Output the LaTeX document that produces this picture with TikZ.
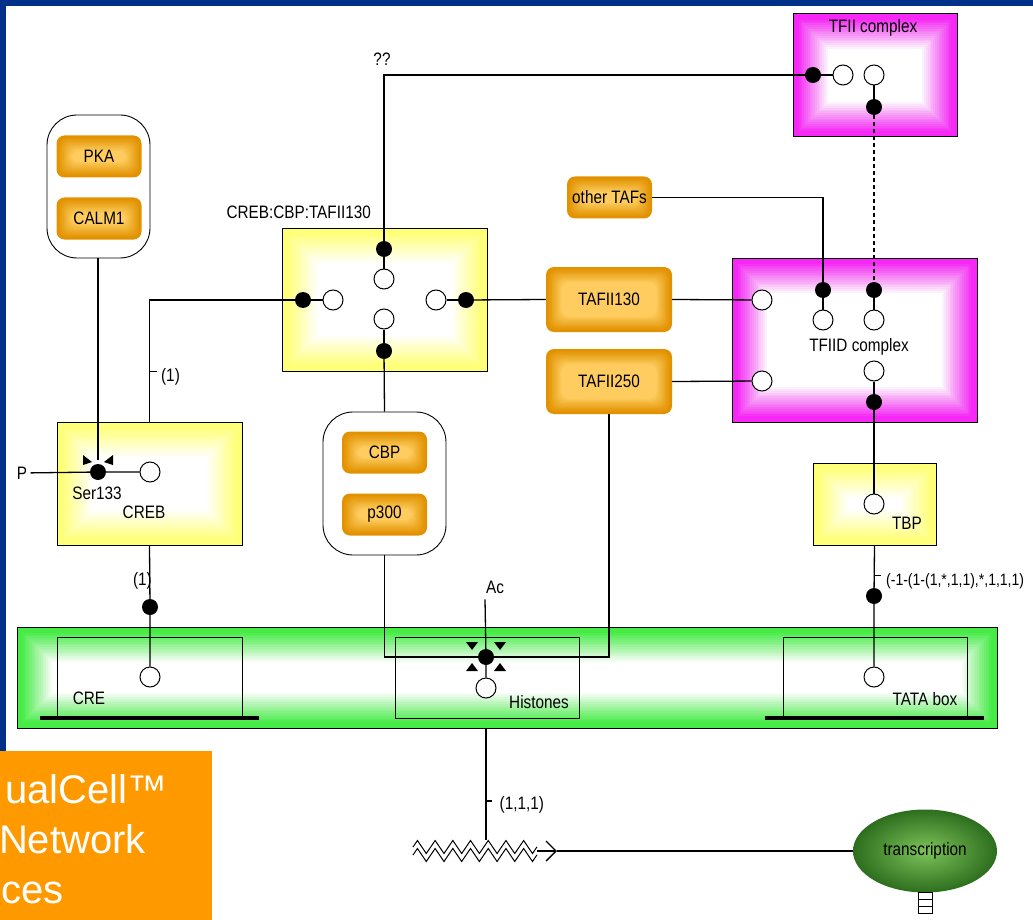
\documentclass[tikz,border=0pt]{standalone}
\usepackage{fontspec}
\setmainfont{Liberation Sans}[FakeStretch=0.85]
\newfontfamily\bannerfont{Liberation Sans}
\usetikzlibrary{shapes.geometric, arrows.meta, decorations.pathmorphing}

\definecolor{slideblue}{RGB}{0,48,135}
\definecolor{bannerorange}{RGB}{255,153,0}
\definecolor{protedge}{RGB}{226,146,0}
\definecolor{protcore}{RGB}{255,205,95}
\definecolor{cplxyel}{RGB}{255,255,120}
\definecolor{cplxmag}{RGB}{245,40,245}
\definecolor{dnagreen}{RGB}{70,235,70}
\definecolor{txdark}{RGB}{45,110,30}
\definecolor{txlight}{RGB}{125,195,90}

\tikzset{
  % soft inner glow: white (or #1) rings stacked from the border inwards
  glow/.style n args={4}{path picture={
      \foreach \k [evaluate=\k as \op using 1/(#4+1-\k)] in {1,...,#4}
        \fill[#1, opacity=\op]
          ([shift={(#2+\k*#3,#2+\k*#3)}]path picture bounding box.south west)
          rectangle ([shift={(-#2-\k*#3,-#2-\k*#3)}]path picture bounding box.north east);}},
  cplx/.style={draw, line width=1pt, fill=#1, glow={white}{4pt}{1.8pt}{17}},
  dnabox/.style={draw, line width=1pt},
  protein/.style={fill=protedge, rounded corners=8pt, glow={protcore}{1pt}{1.2pt}{12},
                  minimum width=85pt, minimum height=42pt},
  group/.style={draw, line width=.9pt, rounded corners=30pt},
  site/.style={circle, draw, fill=white, line width=1pt, minimum size=20pt, inner sep=0pt},
  bind/.style={circle, fill=black, minimum size=16pt, inner sep=0pt},
  wire/.style={line width=1.3pt},
  cat/.style={fill=black},
}

\begin{document}
\begin{tikzpicture}[x=1pt, y=-1pt, every node/.style={font=\fontsize{18}{20}\selectfont}]
\useasboundingbox (0,0) rectangle (1033,920);

% slide frame
\fill[slideblue] (0,0) rectangle (1033,6);
\fill[slideblue] (0,0) rectangle (6,751);

% promoter with its three elements
\node[cplx=dnagreen, minimum width=980pt, minimum height=101pt] (band) at (507,677.5) {};
\node[dnabox, minimum width=185pt, minimum height=80pt] (cre) at (149.5,677) {};
\node[dnabox, minimum width=184pt, minimum height=81pt] (his) at (487,677.5) {};
\node[dnabox, minimum width=184pt, minimum height=80pt] (tata) at (875,677) {};
\draw[line width=4pt] ([xshift=-17pt]cre.south west) -- ([xshift=16pt]cre.south east);
\draw[line width=4pt] ([xshift=-18pt]tata.south west) -- ([xshift=16pt]tata.south east);
\node (cretxt) at (89,698) {CRE};
\node (histxt) at (539,702) {Histones};
\node (tatatxt) at (925,699) {TATA box};

% complexes
\node[cplx=cplxyel, minimum width=185pt, minimum height=123pt] (creb) at (149.5,483.5) {};
\node[cplx=cplxyel, minimum width=205pt, minimum height=143pt] (cct) at (384.5,299.5) {};
\node[cplx=cplxmag, minimum width=164pt, minimum height=123pt] (tfii) at (875,75.5) {};
\node[cplx=cplxmag, minimum width=245pt, minimum height=164pt] (tfiid) at (854.5,340) {};
\node[cplx=cplxyel, minimum width=123pt, minimum height=82pt] (tbp) at (874.5,504) {};

\node[anchor=west] (ccttxt) at (223,212) {CREB:CBP:TAFII130};
\node (tfiitxt) at (873,28) {TFII complex};
\node (tfiidtxt) at (859,347) {TFIID complex};
\node (tbptxt) at (907,523) {TBP};
\node (sertxt) at (97,493) {Ser133};
\node (crebtxt) at (144,512) {CREB};

% proteins
\node[group, minimum width=103pt, minimum height=143pt] (pkagrp) at (98.5,186.5) {};
\node[protein] (pka) at (99,156.5) {PKA};
\node[protein] (calm) at (99,218.5) {CALM1};
\node[group, minimum width=123pt, minimum height=143pt] (cbpgrp) at (384.5,483.5) {};
\node[protein] (cbp) at (384.5,452.5) {CBP};
\node[protein] (p300) at (384.5,514.5) {p300};
\node[protein] (otaf) at (609.5,197.5) {other TAFs};
\node[protein, minimum width=126pt, minimum height=65pt] (taf130) at (609,299.5) {TAFII130};
\node[protein, minimum width=126pt, minimum height=65pt] (taf250) at (609,381.5) {TAFII250};

% binding sites
\node[bind] (ser) at (98,472) {};
\node[site] (crebS) at (150,472) {};
\node (phos) at (22,473) {P};

\node[bind] (cctT) at (384,249) {};
\node[site] (cctTs) at (384,279) {};
\node[site] (cctBs) at (384,319) {};
\node[bind] (cctB) at (384,351) {};
\node[bind] (cctL) at (303,300) {};
\node[site] (cctLs) at (333,300) {};
\node[site] (cctRs) at (436,300) {};
\node[bind] (cctR) at (466,300) {};

\node[bind] (tfiiL) at (813,75) {};
\node[site] (tfiiS1) at (843,75) {};
\node[site] (tfiiS2) at (874,75) {};
\node[bind] (tfiiB) at (874,107) {};

\node[bind] (tfiidD1) at (823,290) {};
\node[bind] (tfiidD2) at (874,290) {};
\node[site] (tfiidS1) at (823,320) {};
\node[site] (tfiidS2) at (874,320) {};
\node[site] (tfiidS3) at (874,371) {};
\node[bind] (tfiidB) at (874,402) {};
\node[site] (tfiidL1) at (762,300) {};
\node[site] (tfiidL2) at (762,381) {};
\node[site] (tbpS) at (874,504) {};

\node[bind] (creD) at (150,607) {};
\node[site] (creS) at (150,677) {};
\node[bind] (hisD) at (486,657) {};
\node[site] (hisS) at (486,688) {};
\node[bind] (tataD) at (874,596) {};
\node[site] (tataS) at (874,677) {};

\node (unk) at (382,59) {??};
\node[anchor=west, inner sep=1pt] (ac) at (485,587) {Ac};

% transcript
\node[ellipse, minimum width=144pt, minimum height=83pt, inner color=txlight, outer color=txdark]
  (tx) at (925,851) {transcription};
\coordinate (mrna) at (475,851);
\coordinate (mrnatip) at (557,851);

%% PKA acts on Ser133
\draw[wire] (pkagrp.south -| ser) -- ([yshift=12pt]ser.center);
\fill[cat] ([shift={(-15,-17)}]ser.center) -- ([shift={(-15,-7)}]ser.center) -- ([shift={(-6,-10)}]ser.center) -- cycle;
\fill[cat] ([shift={(15,-17)}]ser.center) -- ([shift={(15,-7)}]ser.center) -- ([shift={(6,-10)}]ser.center) -- cycle;
\draw[wire] (phos) -- (ser) -- (crebS);

%% CREB
\draw[wire] (creb.north) |- (cctL);
\draw[wire] ([yshift=50pt]creb.north) -- ++(7,0) node[anchor=west, inner sep=0pt, xshift=4pt, yshift=-5pt] (m1) {(1)};
\draw[wire] (creb.south) -- (creD) -- (creS);
\node[anchor=east, inner sep=0pt] (m2) at (152,581) {(1)};

%% CREB:CBP:TAFII130
\draw[wire] (cctL) -- (cctLs);
\draw[wire] (cctR) -- (cctRs);
\draw[wire] (cctT) -- (cctTs);
\draw[wire] (cctB) -- (cctBs);
\draw[wire] (cctT) |- (tfiiL);
\draw[wire] (cctB) -- (cbpgrp.north);
\draw[wire] (cctR) -- (taf130.west);

%% TFII / TFIID
\draw[wire] (tfiiL) -- (tfiiS1);
\draw[wire] (tfiiS2) -- (tfiiB);
\draw[wire, dash pattern=on 4pt off 3pt] (tfiiB) -- (tfiidD2);
\draw[wire] (otaf.east) -| (tfiidD1);
\draw[wire] (tfiidD1) -- (tfiidS1);
\draw[wire] (tfiidD2) -- (tfiidS2);
\draw[wire] (taf130.east) -- (tfiidL1);
\draw[wire] (taf250.east) -- (tfiidL2);
\draw[wire] (tfiidS3) -- (tfiidB) -- (tbpS);

%% TBP on the TATA box
\draw[wire] (tbp.south) -- (tataD) -- (tataS);
\draw[wire] ([yshift=-30pt]tbp.south) -- ++(6,0) node[anchor=west, inner sep=0pt, xshift=5pt, yshift=-6pt,
  font=\fontsize{16.5}{18}\selectfont] (m3) {(-1-(1-(1,*,1,1),*,1,1,1)};

%% histone acetylation
\draw[wire] (cbpgrp.south) |- (hisD);
\draw[wire] (taf250.south) |- (hisD);
\draw[wire] ([yshift=-5pt]ac.south west) -- (hisD) -- (hisS);
\foreach \sx in {-1,1}{
  \fill[cat] ([shift={(\sx*8,-15)}]hisD.center) -- ([shift={(\sx*20,-15)}]hisD.center) -- ([shift={(\sx*14,-7)}]hisD.center) -- cycle;
  \fill[cat] ([shift={(\sx*8,14)}]hisD.center) -- ([shift={(\sx*20,14)}]hisD.center) -- ([shift={(\sx*14,6)}]hisD.center) -- cycle;
}

%% transcription
\draw[wire] (hisS |- band.south) -- ([yshift=11pt]mrna -| hisS);
\draw[wire] ([yshift=50pt]mrna -| hisS) -- ++(6,0) node[anchor=west, inner sep=0pt, xshift=7pt, yshift=-4pt] (m4) {(1,1,1)};
\draw[line width=1pt, decorate, decoration={zigzag, segment length=17.7pt, amplitude=6.5pt}]
  ([shift={(-62,-4)}]mrna) -- ([shift={(62,-4)}]mrna);
\draw[line width=1pt, decorate, decoration={zigzag, segment length=17.7pt, amplitude=6.5pt}]
  ([shift={(-62,4)}]mrna) -- ([shift={(62,4)}]mrna);
\draw[wire, -{Straight Barb[length=10pt, width=20pt]}] ([xshift=62pt]mrna) -- (mrnatip);
\draw[wire] (mrnatip) -- (tx.west);
\draw[line width=1pt] ([xshift=-7pt]tx.south) rectangle ([shift={(7,21)}]tx.south);
\draw[line width=1pt] ([shift={(-7,7)}]tx.south) -- ([shift={(7,7)}]tx.south);
\draw[line width=1pt] ([shift={(-7,14)}]tx.south) -- ([shift={(7,14)}]tx.south);

% banner
\fill[bannerorange] (0,751) rectangle (212,920);
\begin{scope}
  \clip (0,751) rectangle (212,920);
  \node[anchor=base east, inner sep=0pt, text=white, font=\bannerfont\fontsize{40}{44}\selectfont] (b1) at (168,803) {ualCell™};
  \node[anchor=base east, inner sep=0pt, text=white, font=\bannerfont\fontsize{40}{44}\selectfont] (b2) at (146,853) {Network};
  \node[anchor=base west, inner sep=0pt, text=white, font=\bannerfont\fontsize{40}{44}\selectfont] (b3) at (1,903) {ces};
\end{scope}
\end{tikzpicture}
\end{document}
